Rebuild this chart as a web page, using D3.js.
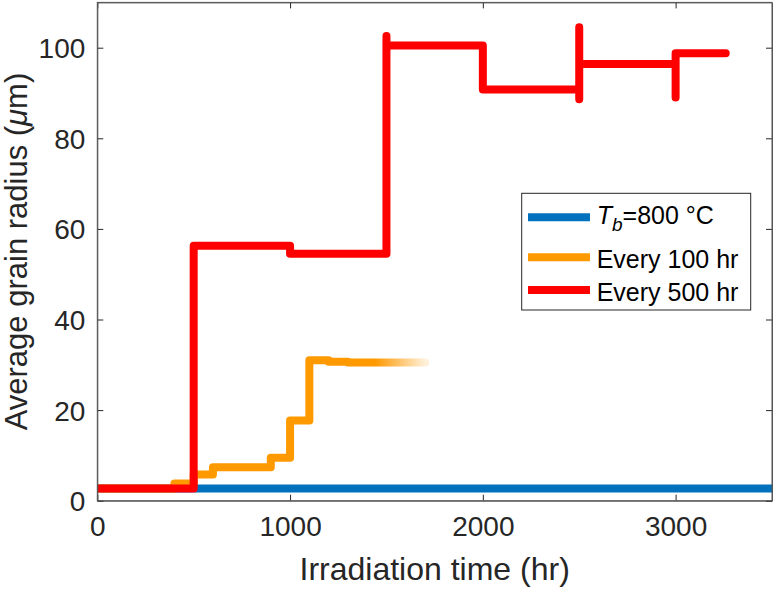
<!DOCTYPE html>
<html>
<head>
<meta charset="utf-8">
<script src="https://cdn.jsdelivr.net/npm/d3@7"></script>
<style>
    body { margin: 0; background: #fff; }
    svg { display: block; font-family: "Liberation Sans", Arial, sans-serif; }
</style>
</head>
<body>
<svg id="grain-graph"></svg>
<script>

// DATA
let xTicks = [0, 1000, 2000, 3000]
let yTicks = [0, 20, 40, 60, 80, 100]

let baseTime = [0, 3500]
let baseRadius = [2.7, 2.7]

let every100Time = [0, 400, 400, 500, 500, 600, 600, 900, 900, 1000, 1000, 1100, 1100, 1200, 1200, 1300, 1300, 1700]
let every100Radius = [2.7, 2.7, 3.8, 3.8, 5.8, 5.8, 7.4, 7.4, 9.5, 9.5, 17.7, 17.7, 31.0, 31.0, 30.7, 30.7, 30.5, 30.5]

let every500Time = [0, 500, 500, 1000, 1000, 1500, 1500, 1500, 2000, 2000, 2500, 2500, 2500, 2500, 3000, 3000, 3000, 3260]
let every500Radius = [2.7, 2.7, 56.3, 56.3, 54.5, 54.5, 102.6, 100.5, 100.5, 90.8, 90.8, 88.6, 104.5, 96.4, 96.4, 89.0, 98.8, 98.8]

let legendLabels = ["=800 °C", "Every 100 hr", "Every 500 hr"]
let colors = ["#0072BD", "#FF9900", "#FF0000"]

function draw_grain_graph(){

    let margins = {top: 2.4, bottom: 91.3, left: 97.3, right: 6}
    let width = 778, height = 592
    let svgWidth = width - margins.left - margins.right
    let svgHeight = height - margins.top - margins.bottom

    let x = d3.scaleLinear().domain([0, 3500]).range([0, svgWidth])
    let y = d3.scaleLinear().domain([0, 110]).range([svgHeight, 0])

    let svg = d3.select('#grain-graph')
        .attr('width', width)
        .attr('height', height)

    let chart = svg.append('g')
        .attr('transform', `translate(${margins.left},${margins.top})`)

    let defs = svg.append('defs')
    defs.append('clipPath').attr('id', 'plot-clip')
        .append('rect').attr('width', svgWidth).attr('height', svgHeight)

    // FADE AT THE END OF THE 100 HR SERIES
    let grad = defs.append('linearGradient')
        .attr('id', 'fade-orange')
        .attr('gradientUnits', 'userSpaceOnUse')
        .attr('x1', 0).attr('x2', x(1700)).attr('y1', 0).attr('y2', 0)
    grad.append('stop').attr('offset', x(1440) / x(1700)).attr('stop-color', colors[1]).attr('stop-opacity', 1)
    grad.append('stop').attr('offset', 1).attr('stop-color', colors[1]).attr('stop-opacity', 0.15)

    let line = d3.line().x(d => x(d[0])).y(d => y(d[1]))

    let series = [
        d3.zip(baseTime, baseRadius),
        d3.zip(every100Time, every100Radius),
        d3.zip(every500Time, every500Radius)
    ]
    let strokes = [colors[0], 'url(#fade-orange)', colors[2]]

    // LINES
    chart.append('g')
        .attr('clip-path', 'url(#plot-clip)')
        .selectAll('path')
        .data(series)
        .enter()
        .append('path')
            .attr('d', line)
            .attr('fill', 'none')
            .attr('stroke', (d, i) => strokes[i])
            .attr('stroke-width', 8)
            .attr('stroke-linejoin', 'round')
            .attr('stroke-linecap', 'round')

    let axisColor = '#262626'

    // X-AXIS
    let xAxis = chart.append('g')
        .attr('transform', `translate(0, ${svgHeight})`)
        .call(d3.axisBottom(x).tickValues(xTicks).tickFormat(d3.format('d')).tickSizeInner(-6).tickSizeOuter(0).tickPadding(15))
    xAxis.selectAll('text').attr('font-size', 28).attr('fill', axisColor)

    chart.append('g')
        .call(d3.axisTop(x).tickValues(xTicks).tickSizeInner(-6).tickSizeOuter(0).tickFormat(''))

    // Y-AXIS
    let yAxis = chart.append('g')
        .call(d3.axisLeft(y).tickValues(yTicks).tickFormat(d3.format('d')).tickSizeInner(-6).tickSizeOuter(0).tickPadding(12))
    yAxis.selectAll('text').attr('font-size', 28).attr('fill', axisColor).attr('dy', '0.36em')

    chart.append('g')
        .attr('transform', `translate(${svgWidth}, 0)`)
        .call(d3.axisRight(y).tickValues(yTicks).tickSizeInner(-6).tickSizeOuter(0).tickFormat(''))

    chart.selectAll('.domain').attr('stroke', '#555')
    chart.selectAll('.tick line').attr('stroke', axisColor)

    // BOX
    chart.append('rect')
        .attr('width', svgWidth)
        .attr('height', svgHeight)
        .attr('fill', 'none')
        .attr('stroke', '#555')
        .attr('stroke-width', 1)

    // AXIS LABELS
    svg.append('text')
        .attr('x', margins.left + svgWidth / 2)
        .attr('y', 580)
        .attr('text-anchor', 'middle')
        .attr('font-size', 32)
        .attr('fill', axisColor)
        .text('Irradiation time (hr)')

    let yLabel = svg.append('text')
        .attr('transform', `translate(27, ${margins.top + svgHeight / 2}) rotate(-90)`)
        .attr('text-anchor', 'middle')
        .attr('font-size', 31)
        .attr('fill', axisColor)
    yLabel.append('tspan').text('Average grain radius (')
    yLabel.append('tspan').attr('font-style', 'italic').text('μ')
    yLabel.append('tspan').text('m)')

    // LEGEND
    let legend = svg.append('g').attr('transform', 'translate(521.7, 193.3)')
    legend.append('rect')
        .attr('width', 229)
        .attr('height', 116.7)
        .attr('fill', '#fff')
        .attr('stroke', axisColor)
        .attr('stroke-width', 1)

    let rowLine = [24, 64, 96.7]
    let rowText = [31, 75, 107.7]

    legend.selectAll('.legend-line')
        .data(legendLabels)
        .enter()
        .append('line')
            .classed('legend-line', true)
            .attr('x1', 6.3).attr('x2', 68.3)
            .attr('y1', (d, i) => rowLine[i]).attr('y2', (d, i) => rowLine[i])
            .attr('stroke', (d, i) => colors[i])
            .attr('stroke-width', 8)

    legend.selectAll('.legend-text')
        .data(legendLabels)
        .enter()
        .append('text')
            .classed('legend-text', true)
            .attr('x', 75)
            .attr('y', (d, i) => rowText[i])
            .attr('font-size', 25)
            .attr('fill', '#000')
            .each(function(d, i){
                let t = d3.select(this)
                if (i === 0) {
                    t.append('tspan').attr('font-style', 'italic').text('T')
                    t.append('tspan').attr('font-style', 'italic').attr('font-size', 19).attr('dy', 7).text('b')
                    t.append('tspan').attr('dy', -7).text(d)
                } else {
                    t.text(d)
                }
            })
}

draw_grain_graph()

</script>
</body>
</html>
